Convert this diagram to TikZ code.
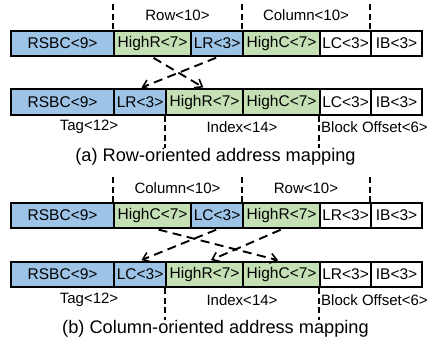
\documentclass[tikz,border=0pt]{standalone}
\usepackage{fontspec}
\setmainfont{Liberation Sans}
\usetikzlibrary{arrows.meta}
\definecolor{fieldblue}{HTML}{9DC3E6}
\definecolor{fieldgreen}{HTML}{C5E0B4}
\tikzset{
  field/.style={draw=black, line width=2.2pt, minimum height=25.5pt, inner sep=0pt,
    anchor=west, font=\fontsize{15.5}{18}\selectfont},
  bluef/.style={field, fill=fieldblue},
  greenf/.style={field, fill=fieldgreen},
  whitef/.style={field, fill=white},
  wA/.style={minimum width=103pt},
  wB/.style={minimum width=77pt},
  wC/.style={minimum width=52pt},
  wD/.style={minimum width=51pt},
  divider/.style={line width=1.6pt, dash pattern=on 6pt off 3.5pt},
  swap/.style={line width=1.9pt, dash pattern=on 9pt off 5.5pt,
    -{Straight Barb[length=6.5pt,width=10pt,line width=1.6pt]}, shorten <=1pt, shorten >=1.5pt},
  lbl/.style={font=\fontsize{15}{18}\selectfont, inner sep=0pt},
  captext/.style={font=\fontsize{18.2}{22}\selectfont, inner sep=0pt}
}
\begin{document}
\begin{tikzpicture}[x=1pt,y=-1pt]
\useasboundingbox (0,0) rectangle (428,346);

% ---------- (a) row-oriented ----------
\node[bluef,wA]  (a1rsbc) at (10,43.5)  {RSBC<9>};
\node[greenf,wB] (a1hr)   at (113,43.5) {HighR<7>};
\node[bluef,wC]  (a1lr)   at (190,43.5) {LR<3>};
\node[greenf,wB] (a1hc)   at (242,43.5) {HighC<7>};
\node[whitef,wD] (a1lc)   at (319,43.5) {LC<3>};
\node[whitef,wD] (a1ib)   at (370,43.5) {IB<3>};

\node[bluef,wA]  (a2rsbc) at (10,102)  {RSBC<9>};
\node[bluef,wC]  (a2lr)   at (113,102) {LR<3>};
\node[greenf,wB] (a2hr)   at (165,102) {HighR<7>};
\node[greenf,wB] (a2hc)   at (242,102) {HighC<7>};
\node[whitef,wD] (a2lc)   at (319,102) {LC<3>};
\node[whitef,wD] (a2ib)   at (370,102) {IB<3>};

\coordinate (at1) at (113,4);
\coordinate (at2) at (242,4);
\coordinate (at3) at (370,4);
\draw[divider] (at1) -- (a1hr.north west);
\draw[divider] (at2) -- (a1hc.north west);
\draw[divider] (at3) -- (a1ib.north west);
\node[lbl] (arow) at (177.5,15) {Row<10>};
\node[lbl] (acol) at (306,15) {Column<10>};

\coordinate (ab1) at (165,148);
\coordinate (ab2) at (319,148);
\draw[divider] (a2hr.south west) -- (ab1);
\draw[divider] (a2lc.south west) -- (ab2);
\node[lbl] (atag) at (89,127) {Tag<12>};
\node[lbl] (aidx) at (242,127) {Index<14>};
\node[lbl,anchor=west] (aoff) at (321,127) {Block Offset<6>};

\draw[swap] (a1hr.south) -- (a2hr.north);
\draw[swap] (a1lr.south) -- (a2lr.north);

\node[captext] (acap) at (215.5,157) {(a) Row-oriented address mapping};

% ---------- (b) column-oriented ----------
\node[bluef,wA]  (b1rsbc) at (10,215.5)  {RSBC<9>};
\node[greenf,wB] (b1hc)   at (113,215.5) {HighC<7>};
\node[bluef,wC]  (b1lc)   at (190,215.5) {LC<3>};
\node[greenf,wB] (b1hr)   at (242,215.5) {HighR<7>};
\node[whitef,wD] (b1lr)   at (319,215.5) {LR<3>};
\node[whitef,wD] (b1ib)   at (370,215.5) {IB<3>};

\node[bluef,wA]  (b2rsbc) at (10,274.5)  {RSBC<9>};
\node[bluef,wC]  (b2lc)   at (113,274.5) {LC<3>};
\node[greenf,wB] (b2hr)   at (165,274.5) {HighR<7>};
\node[greenf,wB] (b2hc)   at (242,274.5) {HighC<7>};
\node[whitef,wD] (b2lr)   at (319,274.5) {LR<3>};
\node[whitef,wD] (b2ib)   at (370,274.5) {IB<3>};

\coordinate (bt1) at (113,177);
\coordinate (bt2) at (242,177);
\coordinate (bt3) at (370,177);
\draw[divider] (bt1) -- (b1hc.north west);
\draw[divider] (bt2) -- (b1hr.north west);
\draw[divider] (bt3) -- (b1ib.north west);
\node[lbl] (bcol) at (177.5,188) {Column<10>};
\node[lbl] (brow) at (306,188) {Row<10>};

\coordinate (bb1) at (165,320);
\coordinate (bb2) at (319,320);
\draw[divider] (b2hr.south west) -- (bb1);
\draw[divider] (b2lr.south west) -- (bb2);
\node[lbl] (btag) at (89,300) {Tag<12>};
\node[lbl] (bidx) at (242,300) {Index<14>};
\node[lbl,anchor=west] (boff) at (321,300) {Block Offset<6>};

\draw[swap] ([xshift=5pt]b1hc.south) -- ([xshift=-2pt]b2hc.north);
\draw[swap] (b1lc.south) -- (b2lc.north);
\draw[swap] (b1hr.south) -- ([xshift=5pt]b2hr.north);

\node[captext] (bcap) at (215.5,329) {(b) Column-oriented address mapping};
\end{tikzpicture}
\end{document}
